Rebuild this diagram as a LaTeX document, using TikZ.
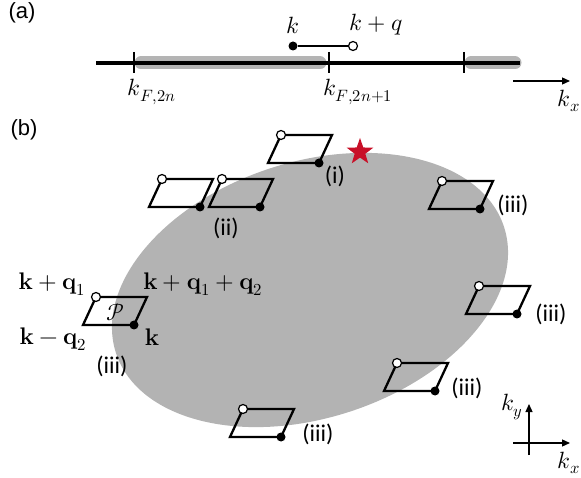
\documentclass[tikz,border=0pt]{standalone}
\usepackage{unicode-math}
\newfontfamily\labfont{Carlito}
\newfontfamily\panfont{Liberation Sans}
\usetikzlibrary{arrows.meta,shapes.geometric}
\definecolor{ellgray}{RGB}{179,179,179}
\definecolor{bandgray}{RGB}{180,180,180}
\definecolor{starred}{RGB}{200,16,40}
\tikzset{
 lab/.style={font=\labfont\fontsize{24}{28}\selectfont, inner sep=0pt},
 pan/.style={font=\panfont\fontsize{22}{26}\selectfont, inner sep=0pt},
 mlab/.style={font=\fontsize{23.5}{28}\selectfont, inner sep=0pt},
 blab/.style={font=\fontsize{24}{28}\selectfont, inner sep=0pt},
 fdot/.style={circle, fill=black, minimum size=9pt, inner sep=0pt},
 odot/.style={circle, draw=black, fill=white, line width=1.2pt, minimum size=9pt, inner sep=0pt},
 paraline/.style={line width=2.3pt, line join=miter},
 axarrow/.style={line width=1.3pt, -{Triangle[length=8pt,width=7pt]}},
}
\newcommand{\plaq}[3]{%
 \coordinate (#1tl) at (#2,#3);
 \coordinate (#1tr) at (#2+51,#3);
 \coordinate (#1br) at (#2+38,#3+28);
 \coordinate (#1bl) at (#2-13,#3+28);
 \draw[paraline] (#1tl) -- (#1tr) -- (#1br) -- (#1bl) -- cycle;
 \node[odot] (#1o) at (#1tl) {};
 \node[fdot] (#1f) at (#1br) {};
}
\begin{document}
\begin{tikzpicture}[x=1pt,y=-1pt]
\useasboundingbox (0,0) rectangle (581,478);
% ---------- panel (a) ----------
\node[pan] (pa) at (22,13) {(a)};
\coordinate (b1s) at (141,63); \coordinate (b1e) at (320,63);
\coordinate (b2s) at (471,63); \coordinate (b2e) at (515,63);
\draw[bandgray, line width=13pt, line cap=round] (b1s) -- (b1e);
\draw[bandgray, line width=13pt, line cap=round] (b2s) -- (b2e);
\coordinate (axl) at (96,63); \coordinate (axr) at (520,63);
\draw[line width=4pt] (axl) -- (axr);
\foreach \t/\x in {t1/134,t2/329,t3/464}{
 \coordinate (\t a) at (\x,52); \coordinate (\t b) at (\x,73);
 \draw[line width=1.3pt] (\t a) -- (\t b);
}
\node[mlab] (kf1) at (152,92) {$k_{F,2n}$};
\node[mlab] (kf2) at (358,92) {$k_{F,2n+1}$};
\node[fdot] (ka) at (293,46) {};
\node[odot] (kqa) at (353,46) {};
\draw[line width=1.5pt] (ka) -- (kqa);
\node[mlab] (kla) at (293,25) {$k$};
\node[mlab] (kqla) at (376,25) {$k+q$};
\coordinate (ax1) at (513,81); \coordinate (ax2) at (570,81);
\draw[axarrow] (ax1) -- (ax2);
\node[mlab] (kxa) at (569,101) {$k_x$};
% ---------- panel (b) ----------
\node[pan] (pb) at (24,130) {(b)};
\fill[ellgray, rotate around={18:(310,290)}] (310,290) ellipse [x radius=204pt, y radius=128pt];
\node[star, star points=5, star point ratio=2.5, fill=starred, minimum size=28pt, inner sep=0pt] (star) at (360,152) {};
\plaq{pi}{281}{135}
\plaq{piiL}{162}{179}
\plaq{piiR}{222}{179}
\plaq{pA}{442}{181}
\plaq{pP}{96}{297}
\plaq{pB}{479}{286}
\plaq{pC}{397}{363}
\plaq{pD}{243}{409}
\node[lab] (li) at (335,176) {(i)};
\node[lab] (lii) at (226,228) {(ii)};
\node[lab] (liiiA) at (513,205) {(iii)};
\node[lab] (liiiB) at (551,314) {(iii)};
\node[lab] (liiiC) at (467,388) {(iii)};
\node[lab] (liiiD) at (318,434) {(iii)};
\node[lab] (liiiP) at (112,366) {(iii)};
\node[blab] (kq1) at (52,284) {$\mathbf{k}+\mathbf{q}_1$};
\node[blab] (kq12) at (203,284) {$\mathbf{k}+\mathbf{q}_1+\mathbf{q}_2$};
\node[blab] (kmq2) at (53,339) {$\mathbf{k}-\mathbf{q}_2$};
\node[blab] (kb) at (152,337) {$\mathbf{k}$};
\node[mlab] (calP) at (115.5,312) {$\mathcal{P}$};
% axes
\coordinate (vy1) at (529,455); \coordinate (vy2) at (529,404);
\coordinate (hx1) at (513,443); \coordinate (hx2) at (570,443);
\draw[axarrow] (vy1) -- (vy2);
\draw[axarrow] (hx1) -- (hx2);
\node[mlab] (kyb) at (512,407) {$k_y$};
\node[mlab] (kxb) at (569,463) {$k_x$};
\end{tikzpicture}
\end{document}
